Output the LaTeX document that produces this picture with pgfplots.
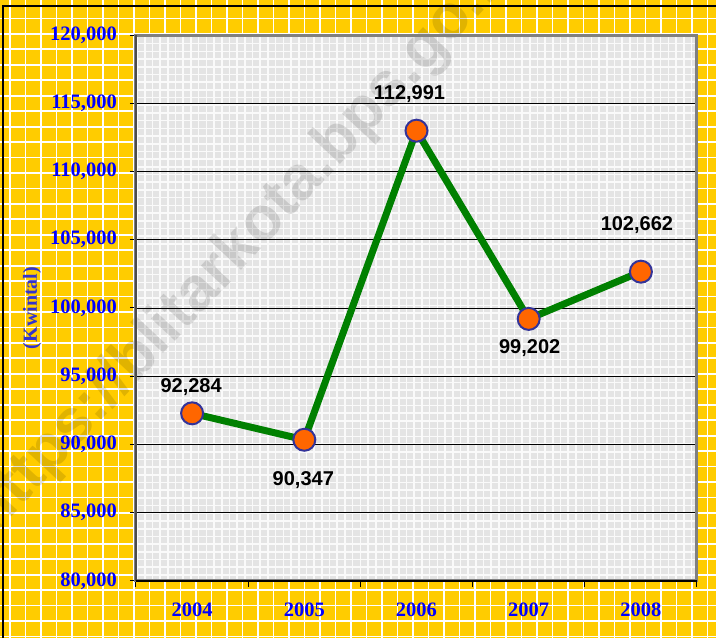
\documentclass[border=0pt]{standalone}
\usepackage{fontspec}
\setmainfont{Liberation Serif}
\newfontfamily\arial{Liberation Sans}
\usepackage{pgfplots}
\usepackage{pgfplotstable}
\pgfplotsset{compat=1.18}

\definecolor{bgyellow}{RGB}{255,204,0}
\definecolor{plotgray}{RGB}{228,228,228}
\definecolor{gridwhite}{RGB}{250,250,250}
\definecolor{tickblue}{RGB}{0,0,255}
\definecolor{labelblue}{RGB}{51,51,204}
\definecolor{linegreen}{RGB}{0,128,0}
\definecolor{markorange}{RGB}{255,102,0}
\definecolor{marknavy}{RGB}{51,51,153}
\definecolor{framegray}{RGB}{128,128,128}

% produksi per tahun (kwintal); dx/dy = offset label data
\pgfplotstableread{
x y dx dy
0 92284 -1 26
1 90347 -1 -40
2 112991 -7 37
3 99202 1 -29
4 102662 -4 47
}\produksi

\begin{document}
\begin{tikzpicture}[x=1pt,y=1pt]
\path[use as bounding box, clip] (0,0) rectangle (716,638);

% yellow tiled background
\fill[bgyellow] (0,0) rectangle (716,638);
\foreach \i in {0,...,46}
  \draw[white, line width=1.8pt] ({10+15.5*\i},0) -- ++(0,638);
\foreach \i in {0,...,41}
  \draw[white, line width=1.8pt] (0,{619.5-15.45*\i}) -- ++(716,0);

% plot area: light gray with fine white grid
\begin{scope}
\clip (136,57) rectangle (697,603);
\fill[plotgray] (136,57) rectangle (697,603);
\foreach \i in {0,...,73}
  \draw[gridwhite, line width=1.6pt] ({137+7.7*\i},57) -- ++(0,546);
\foreach \i in {0,...,71}
  \draw[gridwhite, line width=1.6pt] (136,{602-7.7*\i}) -- ++(561,0);
\end{scope}

% watermark
\node[rotate=47, text=black, text opacity=0.12, font=\arial\bfseries\fontsize{62}{62}\selectfont]
  at (248,398) {https://blitarkota.bps.go.id};

% outer frame (left and top only visible)
\draw[black, line width=1.5pt] (3,0) -- (3,632) -- (716,632);

\begin{axis}[
    at={(136pt,57pt)}, anchor=south west,
    width=561pt, height=546pt, scale only axis,
    xmin=-0.5, xmax=4.5,
    ymin=80000, ymax=120000,
    xtick={0,...,4},
    xticklabels={2004,2005,2006,2007,2008},
    minor xtick={-0.5,0.5,...,4.5},
    ytick={80000,85000,...,120000},
    scaled y ticks=false,
    /pgf/number format/fixed,
    /pgf/number format/1000 sep={,},
    /pgf/number format/assume math mode=true,
    xtick pos=left, ytick pos=left,
    tick align=outside,
    major tick length=6pt, minor tick length=6pt,
    major x tick style={draw=none},
    every tick/.style={black, line width=1pt},
    minor x tick style={black, line width=1pt},
    ymajorgrids,
    major grid style={black, line width=0.9pt},
    axis line style={draw=framegray, line width=3pt},
    tick label style={font=\bfseries\fontsize{20.5}{24}\selectfont, text=tickblue, inner sep=0pt},
    yticklabel style={anchor=east, xshift=-13pt},
    xticklabel style={anchor=north, yshift=-16pt},
    ylabel={(Kwintal)},
    every axis y label/.style={at={(rel axis cs:0,0.5)}, xshift=-104pt, rotate=90, anchor=center,
        font=\bfseries\fontsize{20}{24}\selectfont, text=labelblue},
    clip=false,
]
\draw[black!70, line width=2pt] (rel axis cs:0,0) -- (rel axis cs:0,1);
\draw[black, line width=1.5pt] (rel axis cs:0,0) -- (rel axis cs:1,0);

\addplot[
    linegreen, line width=7pt,
    mark=*, mark size=11pt,
    mark options={fill=markorange, draw=marknavy, line width=2pt},
    nodes near coords,
    visualization depends on={\thisrow{dx} \as \dx},
    visualization depends on={\thisrow{dy} \as \dy},
    every node near coord/.append style={
        anchor=center, xshift=\dx pt, yshift=\dy pt,
        font=\arial\bfseries\fontsize{20}{24}\selectfont, text=black},
] table[x=x, y=y] \produksi;
\end{axis}
\end{tikzpicture}
\end{document}
